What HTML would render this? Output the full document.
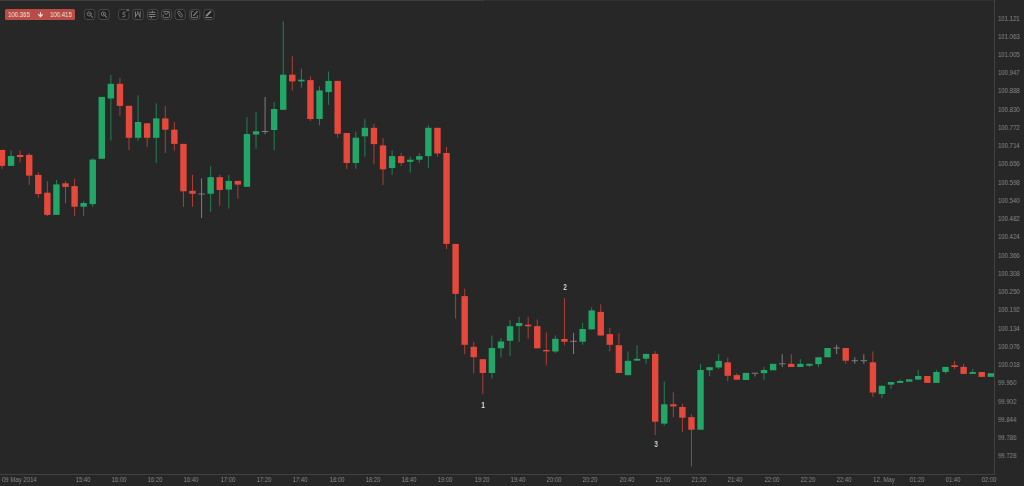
<!DOCTYPE html>
<html><head><meta charset="utf-8"><style>
html,body{margin:0;padding:0;}
body{width:1024px;height:486px;overflow:hidden;background:#272727;position:relative;font-family:"Liberation Sans",sans-serif;}
#top1{position:absolute;left:0;top:0;width:994px;height:1px;background:#313131;}
#top2{position:absolute;left:0;top:0;width:484px;height:1px;background:#3d3d3d;}
#vline{position:absolute;left:994px;top:0;width:1px;height:475px;background:#414141;}
#hline{position:absolute;left:0;top:474px;width:995px;height:1px;background:#414141;}
.yl{will-change:transform;position:absolute;left:998px;font-size:6.85px;line-height:8px;transform:scaleX(0.876);transform-origin:0 0;color:#8a8a8a;white-space:nowrap;}
.xl{will-change:transform;position:absolute;top:476.3px;font-size:6.85px;line-height:8px;transform:scaleX(0.876);transform-origin:0 0;color:#8a8a8a;white-space:nowrap;}
.xc{width:40px;text-align:center;transform-origin:50% 0;}
#badge{position:absolute;left:5px;top:9px;width:70px;height:11px;background:#b94d46;border-radius:1.5px;color:#f3e6e4;font-size:6px;line-height:11px;}
#badge span{position:absolute;top:0;font-size:7px;transform:scaleX(0.86);transform-origin:0 0;will-change:transform;}
.btn{position:absolute;top:9px;width:10px;height:10px;border:1px solid #4d4d4d;border-radius:2px;box-sizing:border-box;}
.btn svg{position:absolute;left:0;top:0;}
.ann{will-change:transform;position:absolute;font-size:8.5px;line-height:8.5px;font-weight:bold;color:#d8d8d8;width:20px;text-align:center;transform:scaleX(0.74);transform-origin:50% 0;}
svg#chart{position:absolute;left:0;top:0;}
</style></head><body>
<div id="top1"></div><div id="top2"></div>
<svg id="chart" width="994" height="474" viewBox="0 0 994 474">
<rect x="1.5" y="149.9" width="1" height="18.9" fill="#e6493b" fill-opacity="0.7"/>
<rect x="-1.2" y="149.9" width="6.4" height="16" fill="#e6493b"/>
<rect x="10.57" y="150.3" width="1" height="15.6" fill="#21a767" fill-opacity="0.7"/>
<rect x="7.87" y="156" width="6.4" height="9.9" fill="#21a767"/>
<rect x="19.64" y="150.3" width="1" height="12.3" fill="#e6493b" fill-opacity="0.7"/>
<rect x="16.94" y="155" width="6.4" height="2" fill="#e6493b"/>
<rect x="28.72" y="153" width="1" height="31.8" fill="#e6493b" fill-opacity="0.7"/>
<rect x="26.02" y="154.9" width="6.4" height="20.7" fill="#e6493b"/>
<rect x="37.79" y="172.1" width="1" height="25.5" fill="#e6493b" fill-opacity="0.7"/>
<rect x="35.09" y="174.9" width="6.4" height="19.1" fill="#e6493b"/>
<rect x="46.86" y="181.1" width="1" height="34.9" fill="#e6493b" fill-opacity="0.7"/>
<rect x="44.16" y="192.7" width="6.4" height="22.2" fill="#e6493b"/>
<rect x="55.93" y="180" width="1" height="35" fill="#21a767" fill-opacity="0.7"/>
<rect x="53.23" y="184.4" width="6.4" height="30.5" fill="#21a767"/>
<rect x="65" y="181.1" width="1" height="22.3" fill="#e6493b" fill-opacity="0.7"/>
<rect x="62.3" y="183.3" width="6.4" height="3.6" fill="#e6493b"/>
<rect x="74.08" y="178.7" width="1" height="37.3" fill="#e6493b" fill-opacity="0.7"/>
<rect x="71.38" y="186.1" width="6.4" height="20.6" fill="#e6493b"/>
<rect x="83.15" y="200.9" width="1" height="15.1" fill="#21a767" fill-opacity="0.7"/>
<rect x="80.45" y="203" width="6.4" height="3.7" fill="#21a767"/>
<rect x="92.22" y="158.3" width="1" height="48.7" fill="#21a767" fill-opacity="0.7"/>
<rect x="89.52" y="159.6" width="6.4" height="44.5" fill="#21a767"/>
<rect x="98.59" y="96.9" width="6.4" height="61.9" fill="#21a767"/>
<rect x="110.36" y="75" width="1" height="65.6" fill="#21a767" fill-opacity="0.7"/>
<rect x="107.66" y="83.8" width="6.4" height="14.7" fill="#21a767"/>
<rect x="119.44" y="77.9" width="1" height="37.8" fill="#e6493b" fill-opacity="0.7"/>
<rect x="116.74" y="83.8" width="6.4" height="22.1" fill="#e6493b"/>
<rect x="128.51" y="105.8" width="1" height="44.45" fill="#e6493b" fill-opacity="0.7"/>
<rect x="125.81" y="105.8" width="6.4" height="32" fill="#e6493b"/>
<rect x="137.58" y="95.3" width="1" height="45.5" fill="#21a767" fill-opacity="0.7"/>
<rect x="134.88" y="122" width="6.4" height="15.8" fill="#21a767"/>
<rect x="146.65" y="123.3" width="1" height="23.5" fill="#e6493b" fill-opacity="0.7"/>
<rect x="143.95" y="123.3" width="6.4" height="14.5" fill="#e6493b"/>
<rect x="155.72" y="103.4" width="1" height="59.5" fill="#21a767" fill-opacity="0.7"/>
<rect x="153.02" y="118.4" width="6.4" height="19.4" fill="#21a767"/>
<rect x="164.8" y="106" width="1" height="47" fill="#e6493b" fill-opacity="0.7"/>
<rect x="162.1" y="118.4" width="6.4" height="11.3" fill="#e6493b"/>
<rect x="173.87" y="122" width="1" height="28.6" fill="#e6493b" fill-opacity="0.7"/>
<rect x="171.17" y="129.7" width="6.4" height="14.2" fill="#e6493b"/>
<rect x="182.94" y="143.9" width="1" height="62.9" fill="#e6493b" fill-opacity="0.7"/>
<rect x="180.24" y="143.9" width="6.4" height="47.4" fill="#e6493b"/>
<rect x="192.01" y="174.8" width="1" height="32" fill="#e6493b" fill-opacity="0.7"/>
<rect x="189.31" y="190.8" width="6.4" height="3" fill="#e6493b"/>
<rect x="201.08" y="178.5" width="1" height="39.5" fill="#7e7e7e" fill-opacity="1"/>
<rect x="198.38" y="193.5" width="6.4" height="1" fill="#7e7e7e"/>
<rect x="210.16" y="166.1" width="1" height="45.7" fill="#21a767" fill-opacity="0.7"/>
<rect x="207.46" y="177.2" width="6.4" height="16.6" fill="#21a767"/>
<rect x="219.23" y="174.8" width="1" height="30.8" fill="#e6493b" fill-opacity="0.7"/>
<rect x="216.53" y="177.2" width="6.4" height="12.8" fill="#e6493b"/>
<rect x="228.3" y="174.8" width="1" height="33.8" fill="#21a767" fill-opacity="0.7"/>
<rect x="225.6" y="180.9" width="6.4" height="8.7" fill="#21a767"/>
<rect x="237.37" y="180.9" width="1" height="17.8" fill="#e6493b" fill-opacity="0.7"/>
<rect x="234.67" y="180.9" width="6.4" height="3.7" fill="#e6493b"/>
<rect x="246.44" y="117.3" width="1" height="69.5" fill="#21a767" fill-opacity="0.7"/>
<rect x="243.74" y="134" width="6.4" height="52.8" fill="#21a767"/>
<rect x="255.52" y="111.8" width="1" height="36.8" fill="#21a767" fill-opacity="0.7"/>
<rect x="252.82" y="131.3" width="6.4" height="3.2" fill="#21a767"/>
<rect x="264.59" y="96.9" width="1" height="37.5" fill="#7e7e7e" fill-opacity="1"/>
<rect x="261.89" y="131" width="6.4" height="1" fill="#7e7e7e"/>
<rect x="273.66" y="102" width="1" height="48.1" fill="#21a767" fill-opacity="0.7"/>
<rect x="270.96" y="109" width="6.4" height="21" fill="#21a767"/>
<rect x="282.73" y="21.4" width="1" height="88.4" fill="#21a767" fill-opacity="0.7"/>
<rect x="280.03" y="74.7" width="6.4" height="35.1" fill="#21a767"/>
<rect x="291.8" y="56.2" width="1" height="34.3" fill="#e6493b" fill-opacity="0.7"/>
<rect x="289.1" y="74.7" width="6.4" height="6.7" fill="#e6493b"/>
<rect x="300.88" y="68.6" width="1" height="19" fill="#21a767" fill-opacity="0.7"/>
<rect x="298.18" y="79.7" width="6.4" height="1.7" fill="#21a767"/>
<rect x="309.95" y="76.4" width="1" height="44.6" fill="#e6493b" fill-opacity="0.7"/>
<rect x="307.25" y="80.1" width="6.4" height="38.9" fill="#e6493b"/>
<rect x="319.02" y="86.3" width="1" height="39" fill="#21a767" fill-opacity="0.7"/>
<rect x="316.32" y="90.5" width="6.4" height="28.5" fill="#21a767"/>
<rect x="328.09" y="71.5" width="1" height="33.3" fill="#21a767" fill-opacity="0.7"/>
<rect x="325.39" y="80.9" width="6.4" height="11.2" fill="#21a767"/>
<rect x="337.16" y="80.9" width="1" height="56.8" fill="#e6493b" fill-opacity="0.7"/>
<rect x="334.46" y="80.9" width="6.4" height="52.9" fill="#e6493b"/>
<rect x="346.24" y="133" width="1" height="35.9" fill="#e6493b" fill-opacity="0.7"/>
<rect x="343.54" y="133" width="6.4" height="30" fill="#e6493b"/>
<rect x="355.31" y="131.7" width="1" height="37.1" fill="#21a767" fill-opacity="0.7"/>
<rect x="352.61" y="137.7" width="6.4" height="25.3" fill="#21a767"/>
<rect x="364.38" y="118.6" width="1" height="38" fill="#21a767" fill-opacity="0.7"/>
<rect x="361.68" y="127.8" width="6.4" height="8.5" fill="#21a767"/>
<rect x="373.45" y="123.7" width="1" height="40.6" fill="#e6493b" fill-opacity="0.7"/>
<rect x="370.75" y="127.8" width="6.4" height="16.3" fill="#e6493b"/>
<rect x="382.52" y="138" width="1" height="46.9" fill="#e6493b" fill-opacity="0.7"/>
<rect x="379.82" y="145.4" width="6.4" height="23.9" fill="#e6493b"/>
<rect x="391.6" y="150.3" width="1" height="24.4" fill="#21a767" fill-opacity="0.7"/>
<rect x="388.9" y="156.1" width="6.4" height="11.9" fill="#21a767"/>
<rect x="400.67" y="153.1" width="1" height="12.9" fill="#e6493b" fill-opacity="0.7"/>
<rect x="397.97" y="156.1" width="6.4" height="6.9" fill="#e6493b"/>
<rect x="409.74" y="156.6" width="1" height="16" fill="#21a767" fill-opacity="0.7"/>
<rect x="407.04" y="159.7" width="6.4" height="2.2" fill="#21a767"/>
<rect x="418.81" y="153.1" width="1" height="9.9" fill="#21a767" fill-opacity="0.7"/>
<rect x="416.11" y="156.1" width="6.4" height="3.6" fill="#21a767"/>
<rect x="427.88" y="125.2" width="1" height="42.8" fill="#21a767" fill-opacity="0.7"/>
<rect x="425.18" y="127.8" width="6.4" height="28.3" fill="#21a767"/>
<rect x="436.96" y="127.8" width="1" height="28.9" fill="#e6493b" fill-opacity="0.7"/>
<rect x="434.26" y="127.8" width="6.4" height="25.7" fill="#e6493b"/>
<rect x="446.03" y="146.8" width="1" height="102.4" fill="#e6493b" fill-opacity="0.7"/>
<rect x="443.33" y="153" width="6.4" height="90.9" fill="#e6493b"/>
<rect x="455.1" y="243.9" width="1" height="74.7" fill="#e6493b" fill-opacity="0.7"/>
<rect x="452.4" y="243.9" width="6.4" height="50" fill="#e6493b"/>
<rect x="464.17" y="288.7" width="1" height="65.5" fill="#e6493b" fill-opacity="0.7"/>
<rect x="461.47" y="296.1" width="6.4" height="48.7" fill="#e6493b"/>
<rect x="473.24" y="341.8" width="1" height="31.7" fill="#e6493b" fill-opacity="0.7"/>
<rect x="470.54" y="346.8" width="6.4" height="10.4" fill="#e6493b"/>
<rect x="482.32" y="359.2" width="1" height="34.8" fill="#e6493b" fill-opacity="0.7"/>
<rect x="479.62" y="359.2" width="6.4" height="13.8" fill="#e6493b"/>
<rect x="491.39" y="335.6" width="1" height="43" fill="#21a767" fill-opacity="0.7"/>
<rect x="488.69" y="348" width="6.4" height="25" fill="#21a767"/>
<rect x="500.46" y="338" width="1" height="19.5" fill="#21a767" fill-opacity="0.7"/>
<rect x="497.76" y="341.5" width="6.4" height="6.8" fill="#21a767"/>
<rect x="509.53" y="320.1" width="1" height="35.9" fill="#21a767" fill-opacity="0.7"/>
<rect x="506.83" y="326.2" width="6.4" height="14.6" fill="#21a767"/>
<rect x="518.6" y="316.9" width="1" height="24.9" fill="#21a767" fill-opacity="0.7"/>
<rect x="515.9" y="323" width="6.4" height="3.1" fill="#21a767"/>
<rect x="527.68" y="316.9" width="1" height="21.8" fill="#e6493b" fill-opacity="0.7"/>
<rect x="524.98" y="324.7" width="6.4" height="1.6" fill="#e6493b"/>
<rect x="536.75" y="319.5" width="1" height="28.8" fill="#e6493b" fill-opacity="0.7"/>
<rect x="534.05" y="326.1" width="6.4" height="22.2" fill="#e6493b"/>
<rect x="545.82" y="332.5" width="1" height="32.9" fill="#e6493b" fill-opacity="0.7"/>
<rect x="543.12" y="350" width="6.4" height="1.4" fill="#e6493b"/>
<rect x="554.89" y="335.4" width="1" height="17.6" fill="#21a767" fill-opacity="0.7"/>
<rect x="552.19" y="338.8" width="6.4" height="12.7" fill="#21a767"/>
<rect x="563.96" y="298.1" width="1" height="47.3" fill="#e6493b" fill-opacity="0.7"/>
<rect x="561.26" y="339" width="6.4" height="2.7" fill="#e6493b"/>
<rect x="573.04" y="332.9" width="1" height="21.1" fill="#7e7e7e" fill-opacity="1"/>
<rect x="570.34" y="340.8" width="6.4" height="1" fill="#7e7e7e"/>
<rect x="582.11" y="322.8" width="1" height="22" fill="#21a767" fill-opacity="0.7"/>
<rect x="579.41" y="329" width="6.4" height="12.7" fill="#21a767"/>
<rect x="591.18" y="307.2" width="1" height="22.2" fill="#21a767" fill-opacity="0.7"/>
<rect x="588.48" y="310.4" width="6.4" height="19" fill="#21a767"/>
<rect x="600.25" y="304.3" width="1" height="31.2" fill="#e6493b" fill-opacity="0.7"/>
<rect x="597.55" y="311.9" width="6.4" height="23.6" fill="#e6493b"/>
<rect x="609.32" y="327.9" width="1" height="23.5" fill="#e6493b" fill-opacity="0.7"/>
<rect x="606.62" y="334.1" width="6.4" height="10.7" fill="#e6493b"/>
<rect x="618.4" y="332.9" width="1" height="40.1" fill="#e6493b" fill-opacity="0.7"/>
<rect x="615.7" y="345.2" width="6.4" height="27.8" fill="#e6493b"/>
<rect x="627.47" y="351.4" width="1" height="23.8" fill="#21a767" fill-opacity="0.7"/>
<rect x="624.77" y="360.8" width="6.4" height="14.4" fill="#21a767"/>
<rect x="636.54" y="345" width="1" height="15.6" fill="#21a767" fill-opacity="0.7"/>
<rect x="633.84" y="358.8" width="6.4" height="1.8" fill="#21a767"/>
<rect x="645.61" y="353.9" width="1" height="9.7" fill="#21a767" fill-opacity="0.7"/>
<rect x="642.91" y="353.9" width="6.4" height="4.8" fill="#21a767"/>
<rect x="654.68" y="351.2" width="1" height="83.9" fill="#e6493b" fill-opacity="0.7"/>
<rect x="651.98" y="353.9" width="6.4" height="67.8" fill="#e6493b"/>
<rect x="663.76" y="381.5" width="1" height="44.2" fill="#21a767" fill-opacity="0.7"/>
<rect x="661.06" y="404.3" width="6.4" height="19.3" fill="#21a767"/>
<rect x="672.83" y="392.2" width="1" height="24.9" fill="#e6493b" fill-opacity="0.7"/>
<rect x="670.13" y="404.3" width="6.4" height="2.1" fill="#e6493b"/>
<rect x="681.9" y="403.7" width="1" height="28.2" fill="#e6493b" fill-opacity="0.7"/>
<rect x="679.2" y="407" width="6.4" height="10.7" fill="#e6493b"/>
<rect x="690.97" y="414.5" width="1" height="51.9" fill="#e6493b" fill-opacity="0.7"/>
<rect x="688.27" y="417.1" width="6.4" height="12.6" fill="#e6493b"/>
<rect x="700.04" y="364" width="1" height="65.7" fill="#21a767" fill-opacity="0.7"/>
<rect x="697.34" y="370" width="6.4" height="59.7" fill="#21a767"/>
<rect x="709.12" y="367.2" width="1" height="9.1" fill="#21a767" fill-opacity="0.7"/>
<rect x="706.42" y="367.2" width="6.4" height="3" fill="#21a767"/>
<rect x="718.19" y="354" width="1" height="14.9" fill="#21a767" fill-opacity="0.7"/>
<rect x="715.49" y="360.9" width="6.4" height="6.6" fill="#21a767"/>
<rect x="727.26" y="357.6" width="1" height="23.5" fill="#e6493b" fill-opacity="0.7"/>
<rect x="724.56" y="362.4" width="6.4" height="13.4" fill="#e6493b"/>
<rect x="736.33" y="373.2" width="1" height="6.5" fill="#e6493b" fill-opacity="0.7"/>
<rect x="733.63" y="375.1" width="6.4" height="4.6" fill="#e6493b"/>
<rect x="742.7" y="372.9" width="6.4" height="7.1" fill="#21a767"/>
<rect x="754.48" y="373.2" width="1" height="3.2" fill="#7e7e7e" fill-opacity="1"/>
<rect x="751.78" y="372.7" width="6.4" height="1" fill="#7e7e7e"/>
<rect x="763.55" y="367.1" width="1" height="12.6" fill="#21a767" fill-opacity="0.7"/>
<rect x="760.85" y="370" width="6.4" height="3.2" fill="#21a767"/>
<rect x="769.92" y="363.8" width="6.4" height="6.5" fill="#21a767"/>
<rect x="781.69" y="354.2" width="1" height="12.9" fill="#7e7e7e" fill-opacity="1"/>
<rect x="778.99" y="363.3" width="6.4" height="1" fill="#7e7e7e"/>
<rect x="790.76" y="354.2" width="1" height="12.8" fill="#e6493b" fill-opacity="0.7"/>
<rect x="788.06" y="363.8" width="6.4" height="3.2" fill="#e6493b"/>
<rect x="799.84" y="359.2" width="1" height="7.8" fill="#21a767" fill-opacity="0.7"/>
<rect x="797.14" y="363.8" width="6.4" height="3.2" fill="#21a767"/>
<rect x="808.91" y="363.8" width="1" height="3.3" fill="#21a767" fill-opacity="0.7"/>
<rect x="806.21" y="363.8" width="6.4" height="1.9" fill="#21a767"/>
<rect x="817.98" y="357.3" width="1" height="9.8" fill="#21a767" fill-opacity="0.7"/>
<rect x="815.28" y="357.3" width="6.4" height="6.8" fill="#21a767"/>
<rect x="824.35" y="348" width="6.4" height="9.3" fill="#21a767"/>
<rect x="836.12" y="344.8" width="1" height="9.2" fill="#7e7e7e" fill-opacity="1"/>
<rect x="833.42" y="347.5" width="6.4" height="1" fill="#7e7e7e"/>
<rect x="845.2" y="348" width="1" height="15.8" fill="#e6493b" fill-opacity="0.7"/>
<rect x="842.5" y="348" width="6.4" height="12.7" fill="#e6493b"/>
<rect x="854.27" y="357.3" width="1" height="6.5" fill="#7e7e7e" fill-opacity="1"/>
<rect x="851.57" y="360.2" width="6.4" height="1" fill="#7e7e7e"/>
<rect x="863.34" y="354.2" width="1" height="9.6" fill="#7e7e7e" fill-opacity="1"/>
<rect x="860.64" y="360.2" width="6.4" height="1" fill="#7e7e7e"/>
<rect x="872.41" y="351.4" width="1" height="45.6" fill="#e6493b" fill-opacity="0.7"/>
<rect x="869.71" y="362.3" width="6.4" height="30.2" fill="#e6493b"/>
<rect x="881.48" y="385.8" width="1" height="12.5" fill="#21a767" fill-opacity="0.7"/>
<rect x="878.78" y="385.8" width="6.4" height="8.2" fill="#21a767"/>
<rect x="890.56" y="382" width="1" height="6.7" fill="#21a767" fill-opacity="0.7"/>
<rect x="887.86" y="382" width="6.4" height="2.6" fill="#21a767"/>
<rect x="899.63" y="379.6" width="1" height="3.3" fill="#21a767" fill-opacity="0.7"/>
<rect x="896.93" y="381" width="6.4" height="1.9" fill="#21a767"/>
<rect x="906" y="379.3" width="6.4" height="2.4" fill="#21a767"/>
<rect x="917.77" y="369.9" width="1" height="9.7" fill="#21a767" fill-opacity="0.7"/>
<rect x="915.07" y="376" width="6.4" height="3.6" fill="#21a767"/>
<rect x="924.14" y="376" width="6.4" height="6.9" fill="#e6493b"/>
<rect x="935.92" y="369.9" width="1" height="13" fill="#21a767" fill-opacity="0.7"/>
<rect x="933.22" y="372" width="6.4" height="10.9" fill="#21a767"/>
<rect x="944.99" y="366.9" width="1" height="6.7" fill="#21a767" fill-opacity="0.7"/>
<rect x="942.29" y="366.9" width="6.4" height="5.1" fill="#21a767"/>
<rect x="954.06" y="360.9" width="1" height="8.2" fill="#e6493b" fill-opacity="0.7"/>
<rect x="951.36" y="365.2" width="6.4" height="1.8" fill="#e6493b"/>
<rect x="963.13" y="363.8" width="1" height="10.1" fill="#e6493b" fill-opacity="0.7"/>
<rect x="960.43" y="366.9" width="6.4" height="7" fill="#e6493b"/>
<rect x="972.2" y="368.9" width="1" height="5" fill="#21a767" fill-opacity="0.7"/>
<rect x="969.5" y="372" width="6.4" height="1.9" fill="#21a767"/>
<rect x="978.58" y="372" width="6.4" height="4.9" fill="#e6493b"/>
<rect x="987.65" y="373.2" width="6.4" height="3.7" fill="#21a767"/>
</svg>
<div id="vline"></div><div id="hline"></div>
<div class="yl" style="top:14.5px">101.121</div>
<div class="yl" style="top:32.74px">101.063</div>
<div class="yl" style="top:50.98px">101.005</div>
<div class="yl" style="top:69.22px">100.947</div>
<div class="yl" style="top:87.46px">100.888</div>
<div class="yl" style="top:105.7px">100.830</div>
<div class="yl" style="top:123.94px">100.772</div>
<div class="yl" style="top:142.18px">100.714</div>
<div class="yl" style="top:160.42px">100.656</div>
<div class="yl" style="top:178.66px">100.598</div>
<div class="yl" style="top:196.9px">100.540</div>
<div class="yl" style="top:215.14px">100.482</div>
<div class="yl" style="top:233.38px">100.424</div>
<div class="yl" style="top:251.62px">100.366</div>
<div class="yl" style="top:269.86px">100.308</div>
<div class="yl" style="top:288.1px">100.250</div>
<div class="yl" style="top:306.34px">100.192</div>
<div class="yl" style="top:324.58px">100.134</div>
<div class="yl" style="top:342.82px">100.076</div>
<div class="yl" style="top:361.06px">100.018</div>
<div class="yl" style="top:379.3px">99.960</div>
<div class="yl" style="top:397.54px">99.902</div>
<div class="yl" style="top:415.78px">99.844</div>
<div class="yl" style="top:434.02px">99.786</div>
<div class="yl" style="top:452.26px">99.728</div>
<div class="xl" style="left:1.5px">09 May 2014</div>
<div class="xl xc" style="left:62.5px">15:40</div>
<div class="xl xc" style="left:98.75px">16:00</div>
<div class="xl xc" style="left:135px">16:20</div>
<div class="xl xc" style="left:171.25px">16:40</div>
<div class="xl xc" style="left:207.5px">17:00</div>
<div class="xl xc" style="left:244px">17:20</div>
<div class="xl xc" style="left:280.25px">17:40</div>
<div class="xl xc" style="left:316.5px">18:00</div>
<div class="xl xc" style="left:352.75px">18:20</div>
<div class="xl xc" style="left:389px">18:40</div>
<div class="xl xc" style="left:425.25px">19:00</div>
<div class="xl xc" style="left:461.5px">19:20</div>
<div class="xl xc" style="left:497.75px">19:40</div>
<div class="xl xc" style="left:534px">20:00</div>
<div class="xl xc" style="left:570.25px">20:20</div>
<div class="xl xc" style="left:606.5px">20:40</div>
<div class="xl xc" style="left:642.75px">21:00</div>
<div class="xl xc" style="left:679px">21:20</div>
<div class="xl xc" style="left:715.25px">21:40</div>
<div class="xl xc" style="left:751.5px">22:00</div>
<div class="xl xc" style="left:788px">22:20</div>
<div class="xl xc" style="left:824.25px">22:40</div>
<div class="xl xc" style="left:863.5px">12. May</div>
<div class="xl xc" style="left:896.75px">01:20</div>
<div class="xl xc" style="left:933px">01:40</div>
<div class="xl xc" style="left:969.25px">02:00</div>
<div id="badge"><span style="left:3.4px">100.365</span><svg style="position:absolute;left:32px;top:2.6px" width="7" height="6" viewBox="0 0 7 6"><path d="M3.5 0.2V4.6M1.1 2.1L3.5 4.6L5.9 2.1" stroke="#f0e0de" stroke-width="1.1" fill="none"/></svg><span style="left:45.3px">100.415</span></div>
<svg id="tb" style="position:absolute;left:0;top:0" width="220" height="24" viewBox="0 0 220 24">
<g fill="#1f1f1f" stroke="#4a4a4a" stroke-width="1">
<rect x="84.6" y="9.5" width="10.2" height="10" rx="2.2"/>
<rect x="98.8" y="9.5" width="10.4" height="10" rx="2.2"/>
<path d="M124.9 9.5H120.8A2.2 2.2 0 0 0 118.6 11.7V17.1A2.2 2.2 0 0 0 120.8 19.3H126.8A2.2 2.2 0 0 0 129 17.1V12.9"/>
<rect x="132.8" y="9.5" width="10.4" height="10" rx="2.2"/>
<rect x="147.6" y="9.6" width="10.2" height="9.9" rx="2.2"/>
<rect x="161.6" y="9.6" width="10.1" height="9.9" rx="2.2"/>
<rect x="175.1" y="9.6" width="10.1" height="9.9" rx="2.2"/>
<rect x="189.7" y="9.6" width="10.1" height="9.9" rx="2.2"/>
<rect x="203.9" y="9.6" width="10.1" height="9.9" rx="2.2"/>
</g>
<rect x="125.9" y="9" width="3.6" height="2.2" rx="0.8" fill="#5a5a5a"/>
<circle cx="89.2" cy="13.7" r="0.8" fill="#707070"/><ellipse cx="103.4" cy="13.9" rx="0.55" ry="1.1" fill="#808080"/>
<g fill="none" stroke="#7a7a7a" stroke-width="0.9" stroke-linecap="round">
<circle cx="89.2" cy="13.9" r="2.1"/><path d="M90.8 15.6L92.6 17.3" stroke-width="1.1"/>
<circle cx="103.4" cy="13.9" r="2.1"/><path d="M105 15.6L106.8 17.3" stroke-width="1.1"/>
<path d="M125 12.4H123.3L123 14.2H123.9A1.2 1.2 0 0 1 123.9 16.6H122.7" stroke-width="1.1" stroke="#686868"/>
<path d="M135.3 11.8L135.7 17.3M137.8 11.4V13.4M140.3 11.8L139.9 17.3M135.6 16.2L137.8 13.4L140 16.2" stroke="#8a8a8a" stroke-width="1"/>
<path d="M149.1 12.3H155.2M149.1 14.5H155.2M149.1 16.6H155.2" stroke="#8c8c8c" stroke-width="0.9"/><path d="M152.4 11.2V12.4M151.3 16.5V17.8" stroke="#8c8c8c" stroke-width="1"/>
<path d="M163.4 11.6H168.6A1 1 0 0 1 169.6 12.6V16.8A1 1 0 0 1 168.6 17.6H164.2A1 1 0 0 1 163.3 16.6V14.8" stroke="#808080"/>
<path d="M164.6 13L166.1 14.7L168.7 11.9" stroke="#909090"/>
<path d="M178.2 11.6A1.2 1.2 0 0 1 180 11.4L182.6 15.6A1.4 1.4 0 0 1 180.4 17L177.8 13A1.2 1.2 0 0 1 178.2 11.6Z" stroke="#7c7c7c"/>
<path d="M179.4 13.2L181.2 16" stroke="#5a5a5a" stroke-width="0.7"/>
<path d="M193.2 11.4H191.4V17.6H197.6V15.4" stroke="#7c7c7c"/>
<path d="M197.2 11.6L193.8 15.4" stroke="#8a8a8a" stroke-width="1.3"/>
<path d="M210.6 11.6L206.6 15.6" stroke="#8c8c8c" stroke-width="1.8"/>
<path d="M205.4 17.5H211.6" stroke="#8a8a8a" stroke-width="0.9"/>
</g>
</svg>
<div class="ann" style="left:472.8px;top:400.55px">1</div>
<div class="ann" style="left:554.7px;top:283.05px">2</div>
<div class="ann" style="left:645.8px;top:439.75px">3</div>
</body></html>
